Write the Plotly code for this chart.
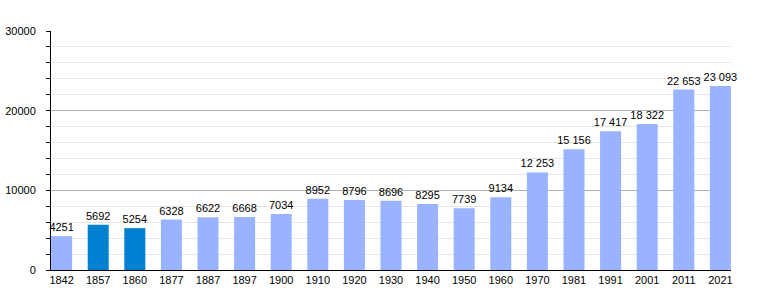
import plotly.graph_objects as go

years = ["1842", "1857", "1860", "1877", "1887", "1897", "1900", "1910", "1920", "1930",
         "1940", "1950", "1960", "1970", "1981", "1991", "2001", "2011", "2021"]
population = [4251, 5692, 5254, 6328, 6622, 6668, 7034, 8952, 8796, 8696,
              8295, 7739, 9134, 12253, 15156, 17417, 18322, 22653, 23093]
highlight_years = ["1857", "1860"]

def fmt(v):
    return f"{v:,}".replace(",", "\u00a0") if v >= 10000 else str(v)

colors = ["#0080d0" if y in highlight_years else "#99b3ff" for y in years]
labels = [fmt(v) for v in population]

fig = go.Figure(go.Bar(
    x=years, y=population, marker=dict(color=colors, line=dict(width=0)),
    width=0.574, text=labels, textposition="outside", cliponaxis=False,
    constraintext="none",
    textfont=dict(family="Liberation Sans, Arial, sans-serif", size=11, color="#000"),
    hoverinfo="skip",
))

fig.update_layout(
    width=760, height=300,
    margin=dict(l=51, r=29, t=31, b=30),
    paper_bgcolor="white", plot_bgcolor="white",
    showlegend=False,
    font=dict(family="Liberation Sans, Arial, sans-serif", size=11, color="#000"),
)
fig.update_xaxes(
    type="category", range=[-0.29, 18.29], automargin=False,
    showline=True, linecolor="#000", linewidth=1,
    showgrid=False, ticks="", tickfont=dict(size=11),
)
fig.update_yaxes(
    range=[0, 30000], dtick=10000, tick0=0, automargin=False,
    showline=True, linecolor="#000", linewidth=1,
    showgrid=True, gridcolor="#b0b0b0", gridwidth=1,
    ticks="outside", ticklen=4, tickcolor="#000",
    tickformat="d", tickfont=dict(size=11),
    ticklabelstandoff=8,
    zeroline=False,
    minor=dict(dtick=2000, showgrid=True, gridcolor="#e6e6e6", ticks="outside",
               ticklen=4, tickcolor="#000"),
)

fig.write_html("out.html")
